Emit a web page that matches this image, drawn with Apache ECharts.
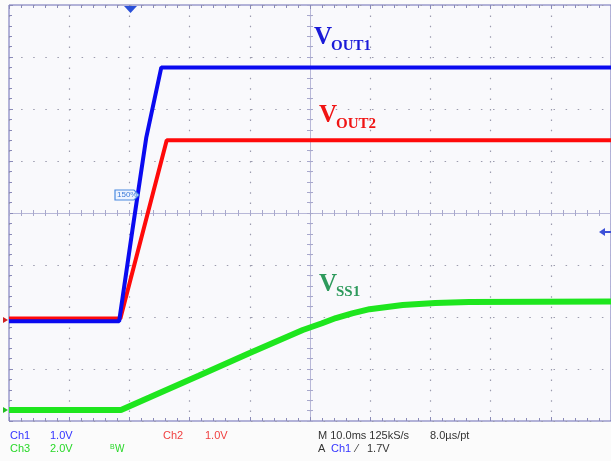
<!DOCTYPE html>
<html>
<head>
<meta charset="utf-8">
<script src="https://cdn.jsdelivr.net/npm/echarts@6/dist/echarts.min.js"></script>
<style>
  html, body { margin: 0; padding: 0; background: #fbfbfb; }
  #chart { width: 611px; height: 461px; }
</style>
</head>
<body>
<div id="chart"></div>
<script>
// time in ms from the left edge of the screen (10 ms/div), level in screen divisions from the bottom
const vout1Time = [0, 18.3, 20.5, 22.8, 25.3, 100];
const vout1Div = [1.92, 1.92, 3.67, 5.45, 6.8, 6.8];

const vout2Time = [0, 18.5, 26.2, 100];
const vout2Div = [1.97, 1.97, 5.4, 5.4];

const vss1Time = [0, 18.6, 23.3, 31.5, 39.8, 48.8, 52.0, 54.3, 57.0, 59.9, 65.4, 70.8, 76.4, 100];
const vss1Div = [0.21, 0.21, 0.45, 0.87, 1.3, 1.75, 1.88, 1.98, 2.07, 2.15, 2.23, 2.27, 2.29, 2.3];

const chLabels = ['Ch1', 'Ch2', 'Ch3'];
const chScales = ['1.0V', '1.0V', '2.0V'];
const timebase = 'M 10.0ms 125kS/s';
const pointRate = '8.0µs/pt';
const trigText = ['A', 'Ch1', '⁄', '1.7V'];

const BLUE = '#0a0af0';
const RED = '#ff0a0a';
const GREEN = '#1ee61e';
const LABEL_GREEN = '#2e9a5c';

function pairs(t, v) {
  return t.map((x, i) => [x, v[i]]);
}

const dotGrid = (dash) => ({ show: true, lineStyle: { color: '#9c9cae', width: 1.2, type: dash } });
const edgeTick = { show: true, inside: true, length: 4, lineStyle: { color: '#8a8ab8' } };
const edgeMinor = { show: true, splitNumber: 5, length: 3, lineStyle: { color: '#8a8ab8' } };
const centerLine = { show: true, lineStyle: { color: '#b8b8d8', width: 1 } };
const centerTick = { show: true, inside: false, length: 3, lineStyle: { color: '#a8a8cc' } };
const centerMinor = { show: true, splitNumber: 5, length: 3, lineStyle: { color: '#a8a8cc' } };

const chart = echarts.init(document.getElementById('chart'));

function txt(x, y, text, color, size, extra) {
  return Object.assign({
    type: 'text', x, y, z: 100,
    style: { text, fill: color, font: (size || 11) + 'px "Liberation Sans", Arial, sans-serif', verticalAlign: 'middle' },
  }, extra || {});
}

function serifLabel(x, y, main, sub, color, subDrop) {
  return [
    { type: 'text', x, y, z: 100, style: { text: main, fill: color, font: 'bold 25px "Liberation Serif", serif', verticalAlign: 'bottom' } },
    { type: 'text', x: x + 17, y: y + subDrop, z: 100, style: { text: sub, fill: color, font: 'bold 15px "Liberation Serif", serif', verticalAlign: 'bottom' } },
  ];
}

chart.setOption({
  animation: false,
  backgroundColor: '#fbfbfb',
  grid: {
    left: 9, top: 5, width: 606, height: 416,
    show: true, backgroundColor: '#f9f9fc', borderColor: '#6a6ab4', borderWidth: 1,
  },
  xAxis: [
    {
      type: 'value', min: 0, max: 100, interval: 10, position: 'bottom',
      axisLine: { show: false, onZero: false }, axisLabel: { show: false },
      axisTick: edgeTick, minorTick: edgeMinor, splitLine: dotGrid([1.5, 8.9]),
    },
    {
      type: 'value', min: 0, max: 100, interval: 10, position: 'top',
      axisLine: { show: false, onZero: false }, axisLabel: { show: false },
      axisTick: edgeTick, minorTick: edgeMinor, splitLine: { show: false },
    },
    {
      type: 'value', min: -50, max: 50, interval: 10, position: 'bottom',
      axisLine: Object.assign({ onZero: true, onZeroAxisIndex: 1 }, centerLine),
      axisLabel: { show: false }, axisTick: centerTick, minorTick: centerMinor, splitLine: { show: false },
    },
    {
      type: 'value', min: -50, max: 50, interval: 10, position: 'top',
      axisLine: Object.assign({ onZero: true, onZeroAxisIndex: 1 }, centerLine),
      axisLabel: { show: false }, axisTick: centerTick, minorTick: centerMinor, splitLine: { show: false },
    },
  ],
  yAxis: [
    {
      type: 'value', min: 0, max: 8, interval: 1, position: 'left',
      axisLine: { show: false, onZero: false }, axisLabel: { show: false },
      axisTick: edgeTick, minorTick: edgeMinor, splitLine: dotGrid([1.5, 10.6]),
    },
    {
      type: 'value', min: -4, max: 4, interval: 1, position: 'right',
      axisLine: Object.assign({ onZero: true, onZeroAxisIndex: 2 }, centerLine),
      axisLabel: { show: false }, axisTick: centerTick, minorTick: centerMinor, splitLine: { show: false },
    },
    {
      type: 'value', min: -4, max: 4, interval: 1, position: 'left',
      axisLine: Object.assign({ onZero: true, onZeroAxisIndex: 2 }, centerLine),
      axisLabel: { show: false }, axisTick: centerTick, minorTick: centerMinor, splitLine: { show: false },
    },
  ],
  series: [
    {
      name: 'VSS1', type: 'line', data: pairs(vss1Time, vss1Div), showSymbol: false,
      lineStyle: { color: GREEN, width: 6 }, z: 3,
    },
    {
      name: 'VOUT2', type: 'line', data: pairs(vout2Time, vout2Div), showSymbol: false,
      lineStyle: { color: RED, width: 4 }, z: 4,
    },
    {
      name: 'VOUT1', type: 'line', data: pairs(vout1Time, vout1Div), showSymbol: false,
      lineStyle: { color: BLUE, width: 4 }, z: 5,
    },
  ],
  graphic: [
    ...serifLabel(314, 50, 'V', 'OUT1', '#1a1ad8', 4),
    ...serifLabel(319, 128, 'V', 'OUT2', '#f01414', 4),
    ...serifLabel(319, 297, 'V', 'SS1', LABEL_GREEN, 3),
    // trigger position marker
    { type: 'polygon', z: 100, shape: { points: [[124, 6], [137, 6], [130.5, 13]] }, style: { fill: '#2a50d8' } },
    // trigger level marker
    { type: 'polygon', z: 100, shape: { points: [[599, 232], [605, 228], [605, 236]] }, style: { fill: '#3c50d8' } },
    { type: 'line', z: 100, shape: { x1: 604, y1: 232, x2: 611, y2: 232 }, style: { stroke: '#3c50d8', lineWidth: 2 } },
    // reference tag
    { type: 'polygon', z: 100, shape: { points: [[115, 190], [134, 190], [139, 195], [134, 200], [115, 200]] },
      style: { fill: '#eef4ff', stroke: '#4a8ae0', lineWidth: 1.2 } },
    txt(117, 195, '150%', '#3a7ad8', 8, {}),
    // channel ground markers
    { type: 'polygon', z: 100, shape: { points: [[3, 317], [8, 320], [3, 323]] }, style: { fill: '#d02020' } },
    { type: 'polygon', z: 100, shape: { points: [[3, 407], [8, 410], [3, 413]] }, style: { fill: '#20c020' } },
    // readout
    txt(10, 436, chLabels[0], '#3434ff'),
    txt(50, 436, chScales[0], '#3434ff'),
    txt(163, 436, chLabels[1], '#f04040'),
    txt(205, 436, chScales[1], '#f04040'),
    txt(10, 449, chLabels[2], '#28d828'),
    txt(50, 449, chScales[2], '#28d828'),
    txt(110, 447, 'B', '#28d828', 7),
    txt(115, 449, 'W', '#28d828', 10),
    txt(318, 436, timebase, '#333333'),
    txt(430, 436, pointRate, '#333333'),
    txt(318, 449, trigText[0], '#333333'),
    txt(331, 449, trigText[1], '#3434ff'),
    txt(356, 449, trigText[2], '#333333'),
    txt(367, 449, trigText[3], '#333333'),
  ],
});
</script>
</body>
</html>
